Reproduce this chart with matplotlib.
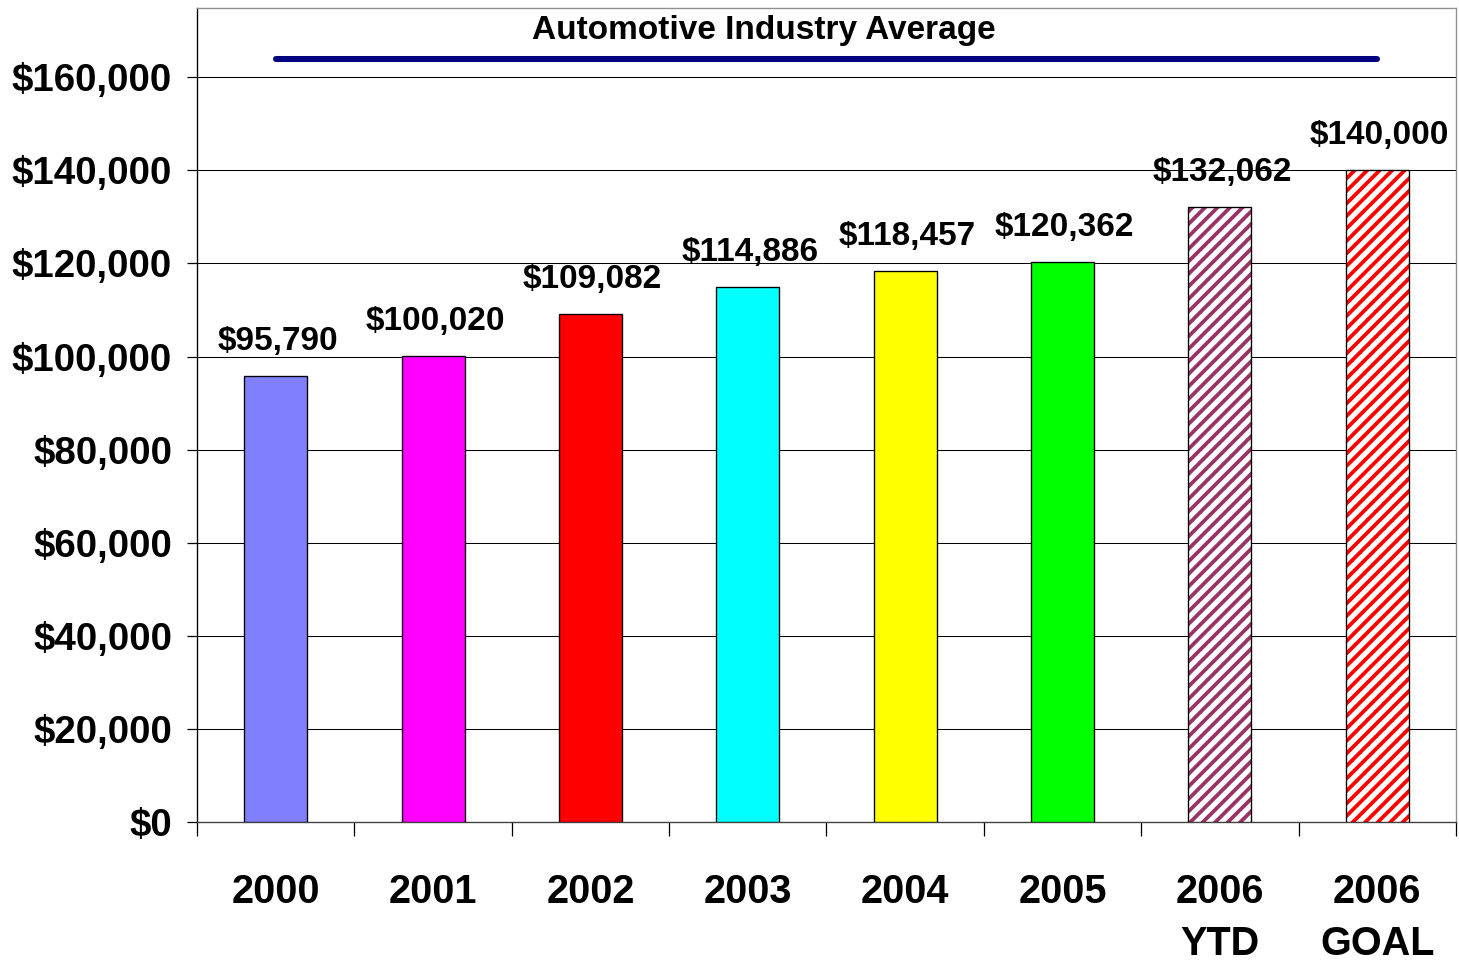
import matplotlib
matplotlib.use("Agg")
import matplotlib.pyplot as plt
import numpy as np

categories = ["2000", "2001", "2002", "2003", "2004", "2005", "2006\nYTD", "2006\nGOAL"]
values = [95790, 100020, 109082, 114886, 118457, 120362, 132062, 140000]
bar_colors = ["#8080FF", "#FF00FF", "#FF0000", "#00FFFF", "#FFFF00", "#00FF00", "#993366", "#FF0000"]
hatched = [False, False, False, False, False, False, True, True]
industry_avg = 164000
y_ticks = [0, 20000, 40000, 60000, 80000, 100000, 120000, 140000, 160000]
title = "Automotive Industry Average"

DPI = 75
FONT = ["Liberation Sans", "DejaVu Sans"]

plt.rcParams["font.family"] = FONT
plt.rcParams["font.weight"] = "bold"
plt.rcParams["hatch.linewidth"] = 3.6


def money(v):
    return "${:,}".format(int(v))


def plot_chart():
    fig = plt.figure(figsize=(1460 / DPI, 962 / DPI), dpi=DPI)
    ax = fig.add_axes([197 / 1460, 140 / 962, 1259 / 1460, 814.5 / 962])
    x = np.arange(len(categories))

    for i, v in enumerate(values):
        if hatched[i]:
            ax.bar(x[i], v, width=0.4, facecolor="white", edgecolor=bar_colors[i],
                   hatch="//", linewidth=0, zorder=3)
            ax.bar(x[i], v, width=0.4, fill=False, edgecolor="black",
                   linewidth=1.3, zorder=4)
        else:
            ax.bar(x[i], v, width=0.4, color=bar_colors[i], edgecolor="black",
                   linewidth=1.3, zorder=3)
        ax.annotate(money(v), (x[i], v), xytext=(2, 25), textcoords="offset points",
                    ha="center", va="baseline", fontsize=32, fontweight="bold")

    ax.plot([x[0], x[-1]], [industry_avg, industry_avg], color="#000080",
            linewidth=5.8, solid_capstyle="round", zorder=5)
    # title sits just under the top frame, a bit left of the line centre
    ax.text(3.1, 0.972, title, transform=ax.get_xaxis_transform(),
            ha="center", va="center", fontsize=32, fontweight="bold")

    ax.set_xlim(-0.5, len(categories) - 0.5)
    ax.set_ylim(0, 175000)
    ax.set_yticks(y_ticks)
    ax.set_yticklabels([money(t) for t in y_ticks], fontsize=37, fontweight="bold")
    ax.set_xticks(x)
    ax.set_xticklabels(categories, fontsize=38, fontweight="bold", linespacing=1.45)
    ax.set_xticks(np.arange(-0.5, len(categories)), minor=True)
    ax.tick_params(axis="x", which="major", length=0, pad=49)
    ax.tick_params(axis="x", which="minor", length=13, width=1.2, color="black")
    ax.tick_params(axis="y", length=10, width=1.2, pad=14)

    ax.grid(axis="y", color="black", linewidth=1.0, zorder=0)
    ax.set_axisbelow(True)
    ax.spines["left"].set_color("black")
    ax.spines["bottom"].set_color("#404040")
    ax.spines["top"].set_color("#909090")
    ax.spines["right"].set_color("#909090")
    for s in ax.spines.values():
        s.set_linewidth(1.3)

    fig.savefig("out.png", dpi=DPI)
    plt.close(fig)


plot_chart()
